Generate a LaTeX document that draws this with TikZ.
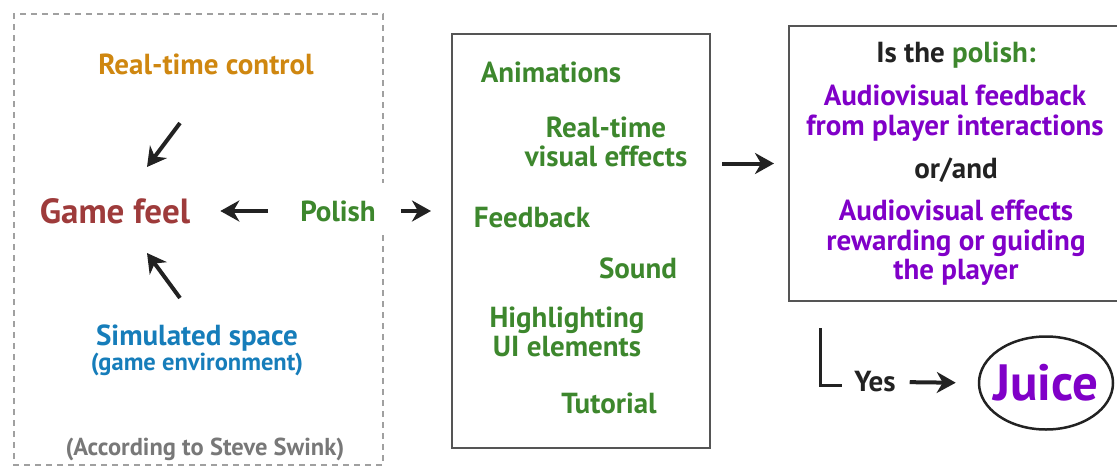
\documentclass[tikz,border=0pt]{standalone}
\usepackage{fontspec}
\setmainfont{PT Sans}
\usetikzlibrary{arrows.meta,shapes.geometric}
\definecolor{orangec}{RGB}{207,135,16}
\definecolor{feelc}{RGB}{158,59,59}
\definecolor{greenc}{RGB}{61,135,45}
\definecolor{bluec}{RGB}{22,125,186}
\definecolor{grayc}{RGB}{120,120,120}
\definecolor{dashc}{RGB}{160,160,160}
\definecolor{purplec}{RGB}{128,0,200}
\definecolor{darkc}{RGB}{34,34,34}
\definecolor{boxc}{RGB}{85,85,85}
\begin{document}
\begin{tikzpicture}[x=1pt,y=-1pt,
  every node/.style={font=\bfseries\fontsize{29}{29.5}\selectfont, inner sep=0pt, align=center},
  arr/.style={line width=4pt, draw=darkc, -{Stealth[length=19pt,width=21pt,inset=6pt]}},
  frame/.style={draw=boxc, line width=2pt},
  small/.style={font=\bfseries\fontsize{24.5}{26}\selectfont}]
\useasboundingbox (0,0) rectangle (1117,466);
% dashed frame
\draw[dashc, line width=1.5pt, dash pattern=on 6pt off 5pt]
  (383,235) -- (383,465) -- (14,465) -- (14,14) -- (383,14) -- (383,183);
% left part
\node[text=orangec] (rtc) at (206,64) {Real-time control};
\node[text=feelc, font=\bfseries\fontsize{35}{36}\selectfont] (gf) at (115,211) {Game feel};
\node[text=greenc] (pol) at (338,211) {Polish};
\node[text=bluec] (sim) at (197,338) {Simulated space};
\node[text=bluec, small] (env) at (197,364) {(game environment)};
\node[text=grayc, font=\bfseries\fontsize{24.5}{26}\selectfont] (acc) at (205,449) {(According to Steve Swink)};
\coordinate (a1s) at (180,123); \coordinate (a1e) at (147,167);
\coordinate (a2s) at (180,298); \coordinate (a2e) at (147,253);
\draw[arr] (a1s) -- (a1e);
\draw[arr] (a2s) -- (a2e);
\draw[arr, shorten <=32pt, shorten >=30pt] (pol.west) -- (gf.east);
% middle box
\node[frame, minimum width=258pt, minimum height=414pt] (mid) at (581,241) {};
\draw[arr, shorten <=25pt, shorten >=20pt] (pol.east) -- (mid.west |- pol.east);
\node[text=greenc] (anim) at (551,72) {Animations};
\node[text=greenc] (rtve) at (606,142) {Real-time\\visual effects};
\node[text=greenc] (fb) at (532,218) {Feedback};
\node[text=greenc] (snd) at (638,268) {Sound};
\node[text=greenc] (hl) at (567,332) {Highlighting\\UI elements};
\node[text=greenc] (tut) at (609,403) {Tutorial};
% right box
\node[frame, minimum width=330pt, minimum height=275pt] (q) at (954,163.5) {};
\draw[arr, shorten <=11pt, shorten >=14pt] (mid.east |- q.west) -- (q.west);
\node[text=darkc] (isthe) at (956,55) {Is the \textcolor{greenc}{polish:}};
\node[text=purplec] (avf) at (955,113) {Audiovisual feedback\\from player interactions};
\node[text=darkc] (orand) at (956,170) {or/and};
\node[text=purplec] (ave) at (956,243) {Audiovisual effects\\rewarding or guiding\\the player};
% yes -> juice
\draw[darkc, line width=3pt] (820,328) |- (842,385);
\node[text=darkc] (yes) at (875,382) {Yes};
\node[ellipse, draw=darkc, line width=2.5pt, minimum width=134pt, minimum height=93pt,
      inner xsep=-8pt, inner ysep=0pt,
      text=purplec, font=\bfseries\fontsize{51}{52}\selectfont] (juice) at (1046,383) {Juice};
\draw[arr, shorten <=14pt, shorten >=22pt] (yes.east) -- (juice.west);
\end{tikzpicture}
\end{document}
